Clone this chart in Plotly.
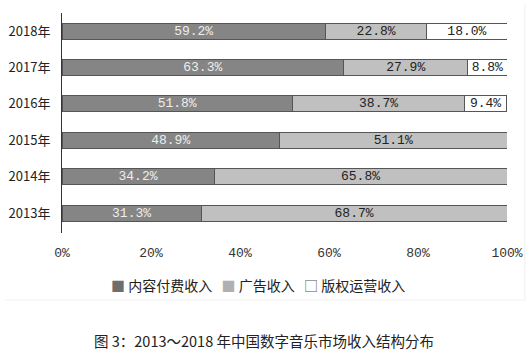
import plotly.graph_objects as go

years = ["2013年", "2014年", "2015年", "2016年", "2017年", "2018年"]
paid = [31.3, 34.2, 48.9, 51.8, 63.3, 59.2]
ads = [68.7, 65.8, 51.1, 38.7, 27.9, 22.8]
rights = [0, 0, 0, 9.4, 8.8, 18.0]
series_names = ["内容付费收入", "广告收入", "版权运营收入"]
x_ticks = [0, 20, 40, 60, 80, 100]
title_text = "图 3：2013～2018 年中国数字音乐市场收入结构分布"

FONT = "Noto Sans CJK SC"
MONO = "Liberation Mono, " + FONT
fills = ["#858585", "#c0c0c0", "#ffffff"]
text_colors = ["#eeeeee", "#222222", "#222222"]
symbols = ["■", "■", "□"]
symbol_colors = ["#6e6e6e", "#b0b0b0", "#555555"]

fig = go.Figure()
for name, vals, fc, tc in zip(series_names, [paid, ads, rights], fills, text_colors):
    fig.add_trace(go.Bar(
        y=years, x=vals, name=name, orientation="h",
        marker=dict(color=fc, line=dict(color="#555555", width=1)),
        text=[f"{v:.1f}%" if v > 0 else "" for v in vals],
        textposition="inside", insidetextanchor="middle", textangle=0,
        constraintext="none",
        textfont=dict(family=MONO, size=13, color=tc),
        width=0.44, showlegend=False,
    ))

NB = "\u00a0"
legend_html = (NB * 3).join(
    f"<span style='color:{sc}'>{s}</span>{NB}{n}"
    for s, sc, n in zip(symbols, symbol_colors, series_names)
)

fig.update_layout(
    barmode="stack",
    width=532, height=354,
    margin=dict(l=62, r=25, t=13, b=121, autoexpand=False),
    paper_bgcolor="white", plot_bgcolor="white",
    font=dict(family=FONT, color="#222222", size=12),
    xaxis=dict(range=[0, 100], tickvals=x_ticks, ticktext=[f"{t}%" for t in x_ticks],
               showgrid=False, zeroline=False, showline=False, ticks="",
               ticklabelstandoff=10, automargin=False,
               tickfont=dict(size=13, family=MONO, color="#333333")),
    yaxis=dict(showgrid=False, zeroline=False, showline=True, linecolor="#333333",
               linewidth=1, ticks="", ticklabelstandoff=8, automargin=False,
               tickfont=dict(size=13, family=FONT), range=[-0.55, 5.5]),
    annotations=[
        dict(text=legend_html, xref="paper", yref="paper", x=0.44, y=(233 - 285) / 220,
             xanchor="center", yanchor="middle", showarrow=False,
             font=dict(size=14, family=FONT, color="#222222")),
        dict(text=title_text, xref="paper", yref="paper", x=0.455, y=(233 - 340) / 220,
             xanchor="center", yanchor="middle", showarrow=False,
             font=dict(size=14.5, family=FONT, color="#222222")),
    ],
    shapes=[
        dict(type="line", xref="paper", yref="paper", x0=1.04, x1=1.04, y0=1.036, y1=-0.305,
             line=dict(color="#eeeeee", width=1)),
        dict(type="line", xref="paper", yref="paper", x0=-0.128, x1=1.04, y0=-0.305, y1=-0.305,
             line=dict(color="#f2f2f2", width=1)),
    ],
)

fig.write_html("out.html")
